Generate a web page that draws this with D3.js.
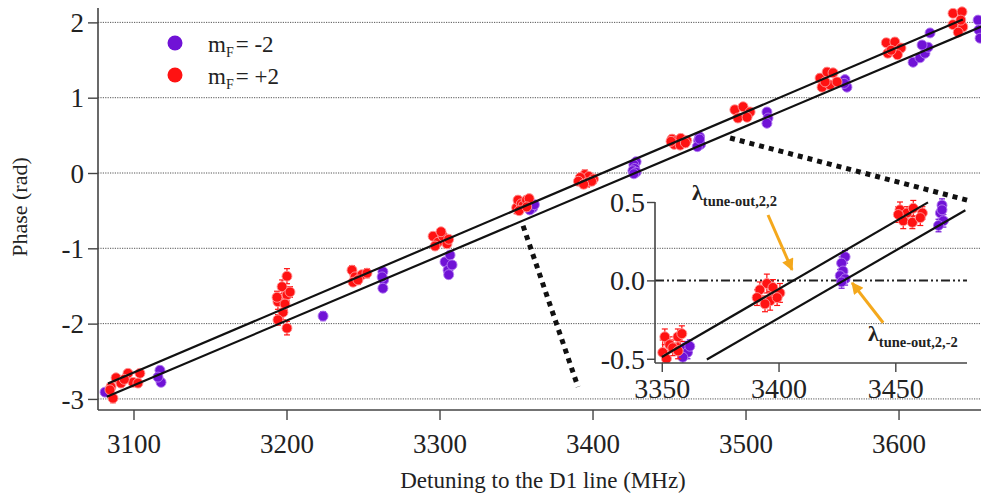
<!DOCTYPE html>
<html><head><meta charset="utf-8">
<script src="https://cdn.jsdelivr.net/npm/d3@7"></script>
<style>
body{margin:0;background:#fff}
svg{display:block}
text{font-family:"Liberation Serif","DejaVu Serif",serif;fill:#222}
</style>
</head><body>
<svg id="c" width="981" height="499"></svg>
<script>
// ---------- data ----------
const seriesNames = ["m_F = -2", "m_F = +2"];
const plusX = [3085.3,3088.6,3091.8,3096.4,3099.7,3104.2,3102.9,3086.6,3084.6,3094,
  3197.1,3194.4,3200.3,3202.3,3193.8,3197.7,3194.4,3200.3,3200.3,3199,
  3242.8,3244.8,3249.3,3252.6,3243.5,3246.7,
  3295.8,3299,3302.3,3304.9,3297.1,3301,3306,
  3350.4,3351.3,3353.4,3354.7,3356.9,3358.6,3352,3357,
  3395,3397.6,3392,3400.6,3390.8,3396.4,3399.4,3394.2,
  3452,3455,3457.7,3461.6,3453.4,3457.3,3460.7,3451.3,
  3493,3498.4,3503,3495,3501,
  3548.7,3553.3,3557.2,3550,3555.2,3559.8,3552,
  3592,3597.6,3601.6,3593,3599.3,3595.1,
  3635.6,3641.5,3635.6,3642,3639,3640.7];
const plusY = [-2.84,-2.72,-2.79,-2.66,-2.78,-2.66,-2.79,-2.99,-2.88,-2.74,
  -1.51,-1.71,-1.62,-1.58,-1.65,-1.85,-1.95,-2.06,-1.37,-1.74,
  -1.29,-1.38,-1.35,-1.33,-1.45,-1.42,
  -0.84,-0.92,-0.84,-0.94,-0.97,-0.78,-0.88,
  -0.46,-0.36,-0.41,-0.43,-0.36,-0.34,-0.50,-0.45,
  -0.02,-0.045,-0.06,-0.08,-0.11,-0.13,-0.11,-0.15,
  0.45,0.43,0.46,0.43,0.38,0.37,0.40,0.42,
  0.84,0.88,0.81,0.73,0.74,
  1.26,1.34,1.33,1.14,1.17,1.21,1.21,
  1.73,1.74,1.66,1.59,1.57,1.63,
  2.12,2.14,1.97,1.94,1.87,2.03];
const plusErr = [0.05,0.04,0.05,0.04,0.05,0.04,0.05,0.06,0.05,0.04,
  0.09,0.1,0.08,0.07,0.08,0.1,0.07,0.09,0.1,0.08,
  0.06,0.06,0.05,0.06,0.05,0.06,
  0.05,0.05,0.05,0.05,0.05,0.05,0.05,
  0.08,0.05,0.05,0.05,0.05,0.05,0.05,0.05,
  0.06,0.05,0.05,0.06,0.05,0.06,0.05,0.05,
  0.05,0.04,0.05,0.04,0.05,0.04,0.05,0.05,
  0.05,0.05,0.05,0.05,0.05,
  0.05,0.05,0.05,0.05,0.05,0.05,0.05,
  0.05,0.05,0.05,0.05,0.05,0.05,
  0.05,0.05,0.05,0.05,0.05,0.05];
const minusX = [3081.4,3117.3,3118,3116,3223.9,
  3263,3263.5,3263,3262.5,
  3303.6,3306.9,3305.6,3308.2,3306,
  3360,3361,3359,3362,
  3428.5,3427,3427.6,3426.4,3428.5,3427,
  3470,3469.3,3470.6,3468.5,3470,
  3514,3514.7,3514,
  3565,3566.3,3564.5,
  3609.5,3614,3617.3,3619.3,3620.6,3615.4,
  3652,3652.5,3653.3];
const minusY = [-2.91,-2.62,-2.78,-2.71,-1.90,
  -1.31,-1.42,-1.53,-1.38,
  -1.18,-1.09,-1.29,-1.22,-1.35,
  -0.43,-0.46,-0.49,-0.42,
  0.15,0.11,0.06,0.03,0.01,-0.01,
  0.48,0.43,0.38,0.35,0.45,
  0.81,0.73,0.66,
  1.24,1.14,1.19,
  1.47,1.53,1.59,1.67,1.86,1.70,
  2.03,1.90,1.79];
const minusErr = [0.04,0.05,0.05,0.04,0.06,
  0.05,0.04,0.05,0.04,
  0.05,0.04,0.05,0.04,0.05,
  0.04,0.04,0.04,0.04,
  0.04,0.04,0.04,0.04,0.04,0.04,
  0.04,0.04,0.04,0.04,0.04,
  0.04,0.04,0.04,
  0.04,0.04,0.04,
  0.04,0.04,0.04,0.04,0.04,0.04,
  0.04,0.04,0.04];
// linear fits: phase = slope*(f - zero)
const fitSlope = [0.0086, 0.00865];      // [mF=-2, mF=+2]
const fitZero  = [3428, 3406.5];
const fitMainFrom = [3082.5, 3083.3];
const fitMainTo   = [3660, 3642];
const fitInsetFrom = [3369.3, 3350];
const fitInsetTo   = [3480, 3464];
const yTicks = [-3,-2,-1,0,1,2];
const xTicks = [3100,3200,3300,3400,3500,3600];
const insetXTicks = [3350,3400,3450];
const insetYTicks = [-0.5,0.0,0.5];
const label1 = ["λ","tune-out,2,2"];
const label2 = ["λ","tune-out,2,-2"];

// ---------- styling ----------
const colMinus = "#7012d6", colPlus = "#ff1212";
const strokeMinus = "#b37cf0", strokePlus = "#ff9a9a";
const FONT = "Liberation Serif";
const svg = d3.select("#c");

// main scales
const x = d3.scaleLinear().domain([3076.8, 3653.9]).range([98, 981]);
const y = d3.scaleLinear().domain([-3.147, 2.191]).range([410, 8]);
// inset scales
const xi = d3.scaleLinear().domain([3347.1, 3480.7]).range([655, 967]);
const yi = d3.scaleLinear().domain([-0.527, 0.5]).range([363, 202]);

// gridlines
svg.append("g").selectAll("line").data(yTicks).join("line")
  .attr("x1", 98).attr("x2", 981).attr("y1", d=>y(d)).attr("y2", d=>y(d))
  .attr("stroke", "#555").attr("stroke-width", 1).attr("stroke-dasharray", "1.2,1.2");

svg.append("clipPath").attr("id","mclip").append("rect")
  .attr("x",98).attr("y",0).attr("width",883).attr("height",410);

function drawPoints(g, xs, ys, es, X, Y, fill, stroke){
  const data = xs.map((v,i)=>({x:v,y:ys[i],e:es[i]}));
  const eg = g.append("g").attr("stroke", fill).attr("stroke-width", 1.2);
  data.forEach(d=>{
    eg.append("line").attr("x1",X(d.x)).attr("x2",X(d.x)).attr("y1",Y(d.y-d.e)).attr("y2",Y(d.y+d.e));
    eg.append("line").attr("x1",X(d.x)-3).attr("x2",X(d.x)+3).attr("y1",Y(d.y-d.e)).attr("y2",Y(d.y-d.e));
    eg.append("line").attr("x1",X(d.x)-3).attr("x2",X(d.x)+3).attr("y1",Y(d.y+d.e)).attr("y2",Y(d.y+d.e));
  });
  g.append("g").selectAll("circle").data(data).join("circle")
    .attr("cx", d=>X(d.x)).attr("cy", d=>Y(d.y)).attr("r", 5)
    .attr("fill", fill).attr("stroke", stroke).attr("stroke-width", 0.9);
}

function drawFits(g, X, Y, from, to){
  for (let k=0;k<2;k++){
    const pts = [from[k], to[k]].map(f=>[X(f), Y(fitSlope[k]*(f-fitZero[k]))]);
    g.append("line").attr("x1",pts[0][0]).attr("y1",pts[0][1]).attr("x2",pts[1][0]).attr("y2",pts[1][1])
      .attr("stroke","#111").attr("stroke-width",2.2);
  }
}

// main plot content
const main = svg.append("g").attr("clip-path","url(#mclip)");
drawPoints(main, minusX, minusY, minusErr, x, y, colMinus, strokeMinus);
drawPoints(main, plusX, plusY, plusErr, x, y, colPlus, strokePlus);
drawFits(main, x, y, fitMainFrom, fitMainTo);

// main axes
const yAxis = svg.append("g").attr("transform","translate(98,0)")
  .call(d3.axisLeft(y).tickValues(yTicks).tickSize(10).tickPadding(4).tickFormat(d=>String(d)));
const xAxis = svg.append("g").attr("transform","translate(0,410)")
  .call(d3.axisBottom(x).tickValues(xTicks).tickSize(10).tickPadding(4).tickFormat(d=>String(d)));
[yAxis, xAxis].forEach(a=>{
  a.attr("font-family", FONT);
  a.select(".domain").attr("stroke","#444").attr("stroke-width",1.6);
  a.selectAll(".tick line").attr("stroke","#444").attr("stroke-width",1.4);
  a.selectAll(".tick text").attr("font-size",27).attr("font-family",FONT).attr("fill","#222");
});
yAxis.select(".domain").attr("d","M0,8V410");
xAxis.select(".domain").attr("d","M98,0H981");
yAxis.selectAll(".tick text").attr("dy","0.34em");
xAxis.selectAll(".tick text").attr("y",43).attr("dy",0);

// axis titles
svg.append("text").attr("transform","translate(27,207) rotate(-90)").attr("text-anchor","middle")
  .attr("font-size",22).text("Phase (rad)");
svg.append("text").attr("x",543).attr("y",488).attr("text-anchor","middle")
  .attr("font-size",23).text("Detuning to the D1 line (MHz)");

// legend
const leg = svg.append("g");
[[colMinus,strokeMinus,"-2",43],[colPlus,strokePlus,"+2",75]].forEach(([c,s,v,cy])=>{
  leg.append("circle").attr("cx",175).attr("cy",cy).attr("r",7.5).attr("fill",c);
  const t = leg.append("text").attr("x",208).attr("y",cy+9).attr("font-size",23);
  t.append("tspan").text("m");
  t.append("tspan").attr("font-size",14).attr("dy",5).text("F");
  t.append("tspan").attr("dy",-5).attr("dx",2).text("= " + v);
});

// zoom connector dotted lines (main data coords)
const connectors = [[[3489.9,0.465],[3644.8,-0.36]],[[3354.6,-0.70],[3390.5,-2.84]]];
connectors.forEach(c=>{
  svg.append("line").attr("x1",x(c[0][0])).attr("y1",y(c[0][1])).attr("x2",x(c[1][0])).attr("y2",y(c[1][1]))
    .attr("stroke","#111").attr("stroke-width",5).attr("stroke-dasharray","5,5");
});

// ---------- inset ----------
const ins = svg.append("g");
ins.append("clipPath").attr("id","iclip").append("rect")
  .attr("x",655).attr("y",190).attr("width",326).attr("height",173);
ins.append("line").attr("x1",655).attr("x2",967).attr("y1",yi(0)).attr("y2",yi(0))
  .attr("stroke","#222").attr("stroke-width",2).attr("stroke-dasharray","9,3,2,3,2,3");
const ic = ins.append("g").attr("clip-path","url(#iclip)");
drawPoints(ic, minusX, minusY, minusErr, xi, yi, colMinus, strokeMinus);
drawPoints(ic, plusX, plusY, plusErr, xi, yi, colPlus, strokePlus);
drawFits(ins, xi, yi, fitInsetFrom, fitInsetTo);

const iyAxis = ins.append("g").attr("transform","translate(655,0)")
  .call(d3.axisLeft(yi).tickValues(insetYTicks).tickSize(8).tickPadding(2).tickFormat(d=>d.toFixed(1)));
const ixAxis = ins.append("g").attr("transform","translate(0,363)")
  .call(d3.axisBottom(xi).tickValues(insetXTicks).tickSize(9).tickPadding(4).tickFormat(d=>String(d)));
[iyAxis, ixAxis].forEach(a=>{
  a.attr("font-family", FONT);
  a.select(".domain").attr("stroke","#444").attr("stroke-width",1.6);
  a.selectAll(".tick line").attr("stroke","#444").attr("stroke-width",1.4);
  a.selectAll(".tick text").attr("font-size",28).attr("font-family",FONT).attr("fill","#222");
});
iyAxis.select(".domain").attr("d","M0,202V363");
ixAxis.select(".domain").attr("d","M655,0H967");
iyAxis.selectAll(".tick text").attr("dy","0.34em");
ixAxis.selectAll(".tick text").attr("y",35).attr("dy",0);

// arrows
svg.append("defs").append("marker").attr("id","ah").attr("viewBox","0 0 10 10")
  .attr("refX",9).attr("refY",5).attr("markerWidth",14).attr("markerHeight",12)
  .attr("markerUnits","userSpaceOnUse").attr("orient","auto")
  .append("path").attr("d","M0,0L10,5L0,10z").attr("fill","#f4a81c");
const arrows = [[[3395.5,0.417],[3405.8,0.067]],[[3444.8,-0.27],[3431.5,-0.016]]];
arrows.forEach(a=>{
  ins.append("line").attr("x1",xi(a[0][0])).attr("y1",yi(a[0][1])).attr("x2",xi(a[1][0])).attr("y2",yi(a[1][1]))
    .attr("stroke","#f4a81c").attr("stroke-width",3).attr("marker-end","url(#ah)");
});

// tune-out labels
[[label1,692,200],[label2,868,341]].forEach(([l,lx,ly])=>{
  const t = ins.append("text").attr("x",lx).attr("y",ly).attr("font-weight","bold").attr("fill","#111");
  t.append("tspan").attr("font-size",22).text(l[0]);
  t.append("tspan").attr("font-size",14.5).attr("dy",6).text(l[1]);
});
</script>
</body></html>
